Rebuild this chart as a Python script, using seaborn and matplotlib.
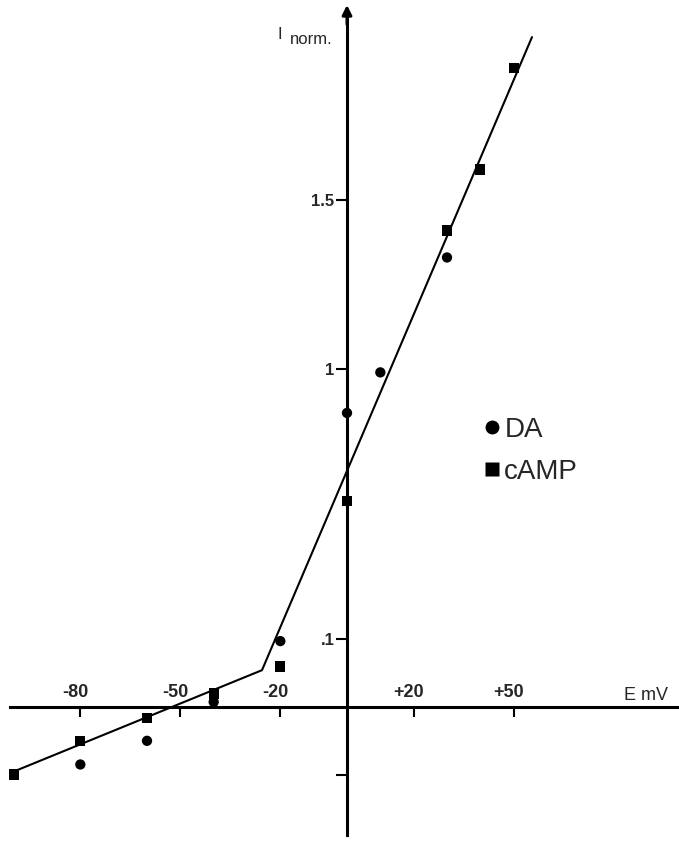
"""
Normalised current vs membrane potential (DA and cAMP responses).
Axes cross at the origin, fit drawn as a two-segment line.
"""

import matplotlib
matplotlib.use("Agg")

import matplotlib.pyplot as plt
import pandas as pd
import seaborn as sns

# ── data ────────────────────────────────────────────────────────────────────
da_mv = [-80, -60, -40, -20, 0, 10, 30]
da_inorm = [-0.17, -0.10, 0.015, 0.195, 0.87, 0.99, 1.33]

camp_mv = [-100, -80, -60, -40, -20, 0, 30, 40, 50]
camp_inorm = [-0.20, -0.10, -0.033, 0.04, 0.12, 0.61, 1.41, 1.59, 1.89]

fit_mv = [-101, -25.5, 55.5]
fit_inorm = [-0.195, 0.109, 1.982]

xtick_vals = [-80, -50, -20, 20, 50]
xtick_text = ["-80", "-50", "-20", "+20", "+50"]
ytick_vals = [-0.2, 0.2, 1.0, 1.5]
ytick_text = ["", ".1", "1", "1.5"]

# ── frame ───────────────────────────────────────────────────────────────────
sns.set_style("white")
plt.rcParams["font.family"] = ["Liberation Sans", "DejaVu Sans"]

pts = pd.concat([
    pd.DataFrame({"E": da_mv, "I": da_inorm, "agent": "DA"}),
    pd.DataFrame({"E": camp_mv, "I": camp_inorm, "agent": "cAMP"}),
])
fit = pd.DataFrame({"E": fit_mv, "I": fit_inorm})

fig = plt.figure(figsize=(6.79, 8.41), dpi=100)
ax = fig.add_axes([0, 0, 1, 1])

sns.lineplot(data=fit, x="E", y="I", color="black", lw=1.5, ax=ax)
sns.scatterplot(
    data=pts, x="E", y="I", style="agent", markers={"DA": "o", "cAMP": "s"},
    color="black", s=55, edgecolor="none", ax=ax,
)

ax.set_xlim(-104.1, 99.6)
ax.set_ylim(-0.3964, 2.0917)
ax.set_xlabel("")
ax.set_ylabel("")

# axes through the origin
for side in ["top", "right"]:
    ax.spines[side].set_visible(False)
ax.spines["left"].set_position(("data", 0))
ax.spines["bottom"].set_position(("data", 0))
ax.spines["left"].set_bounds(-0.379, 2.05)
ax.spines["bottom"].set_bounds(-101.2, 99.6)
for side in ["left", "bottom"]:
    ax.spines[side].set_linewidth(2.2)
    ax.spines[side].set_color("black")

# arrow head on top of the current axis
ax.annotate("", xy=(0, 2.077), xytext=(0, 2.02),
            arrowprops=dict(arrowstyle="-|>", color="black", lw=2.2,
                            mutation_scale=14, shrinkA=0, shrinkB=0))

ax.set_xticks(xtick_vals)
ax.set_xticklabels([])
ax.set_yticks(ytick_vals)
ax.set_yticklabels(ytick_text, fontsize=12, fontweight="bold")
ax.tick_params(axis="x", bottom=True, direction="out", length=7, width=1.5, color="black")
ax.tick_params(axis="y", left=True, direction="out", length=8, width=1.5, color="black", pad=1)

# x tick labels sit above the axis line
for v, t in zip(xtick_vals, xtick_text):
    ax.annotate(t, xy=(v, 0), xytext=(-3.5, 4), textcoords="offset points",
                ha="center", va="bottom", fontsize=13, fontweight="bold")

# axis titles
ax.text(0.409, 0.950, "I", transform=ax.transAxes, fontsize=12, ha="left", va="bottom")
ax.text(0.427, 0.944, "norm.", transform=ax.transAxes, fontsize=12, ha="left", va="bottom")
ax.annotate("E mV", xy=(99.6, 0), xytext=(-8, 2.5), textcoords="offset points",
            ha="right", va="bottom", fontsize=13)

# legend
handles, labels = ax.get_legend_handles_labels()
ax.legend(handles, labels, loc="upper left", bbox_to_anchor=(0.712, 0.504),
          frameon=False, fontsize=20, markerscale=1.35, handlelength=0.6,
          handletextpad=0.15, labelspacing=0.57, borderpad=0, borderaxespad=0)

fig.savefig("out.png", dpi=100)
plt.close(fig)
